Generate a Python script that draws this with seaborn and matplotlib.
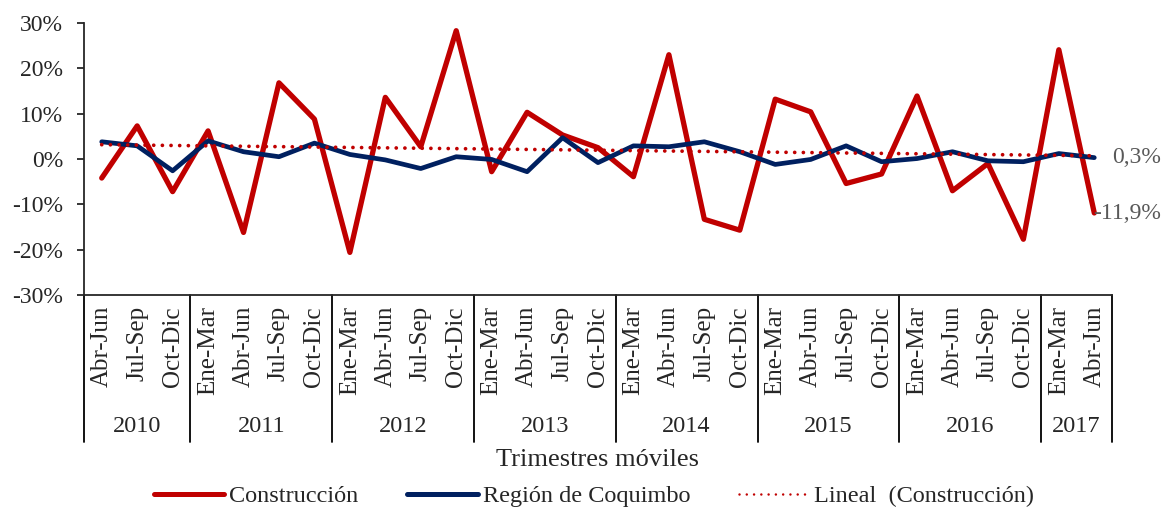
import numpy as np
import pandas as pd
import seaborn as sns
import matplotlib
matplotlib.use("Agg")
import matplotlib.pyplot as plt
import matplotlib.transforms as mtransforms
from matplotlib.lines import Line2D

# trimestres moviles, 2010 Abr-Jun .. 2017 Abr-Jun
anios = ["2010", "2011", "2012", "2013", "2014", "2015", "2016", "2017"]
trimestres_por_anio = [
    ["Abr-Jun", "Jul-Sep", "Oct-Dic"],
    ["Ene-Mar", "Abr-Jun", "Jul-Sep", "Oct-Dic"],
    ["Ene-Mar", "Abr-Jun", "Jul-Sep", "Oct-Dic"],
    ["Ene-Mar", "Abr-Jun", "Jul-Sep", "Oct-Dic"],
    ["Ene-Mar", "Abr-Jun", "Jul-Sep", "Oct-Dic"],
    ["Ene-Mar", "Abr-Jun", "Jul-Sep", "Oct-Dic"],
    ["Ene-Mar", "Abr-Jun", "Jul-Sep", "Oct-Dic"],
    ["Ene-Mar", "Abr-Jun"],
]

# variacion anual (%)
construccion = [-4.2, 7.3, -7.2, 6.2, -16.2, 16.8, 8.8, -20.6, 13.6, 2.7,
                28.3, -2.8, 10.3, 5.3, 2.5, -3.9, 23.0, -13.3, -15.7, 13.2,
                10.4, -5.4, -3.3, 13.9, -7.0, -1.0, -17.7, 24.1, -11.9]
coquimbo = [3.8, 2.9, -2.6, 4.0, 1.6, 0.5, 3.5, 1.0, -0.2, -2.1,
            0.5, -0.1, -2.8, 4.7, -0.8, 2.9, 2.7, 3.8, 1.6, -1.2,
            -0.1, 2.9, -0.6, 0.1, 1.6, -0.4, -0.6, 1.2, 0.3]

etiquetas = [t for grupo in trimestres_por_anio for t in grupo]
n = len(etiquetas)
pos = np.arange(n)

df = pd.DataFrame({"pos": pos, "Construcción": construccion,
                   "Región de Coquimbo": coquimbo})
coef = np.polyfit(pos, construccion, 1)
df["tendencia"] = np.polyval(coef, pos)

sns.set_style("ticks")
plt.rcParams["font.family"] = ["Liberation Serif", "DejaVu Serif"]

rojo = "#C00000"
azul = "#002060"

fig = plt.figure(figsize=(11.66, 5.08), dpi=100)
ax = fig.add_axes([84 / 1166, 1 - 295 / 508, (1112 - 84) / 1166, 272 / 508])

sns.lineplot(data=df, x="pos", y="tendencia", color=rojo, lw=2.7, ax=ax,
             linestyle=(0, (0.01, 2.3)))
sns.lineplot(data=df, x="pos", y="Construcción", color=rojo, lw=3.8, ax=ax)
sns.lineplot(data=df, x="pos", y="Región de Coquimbo", color=azul, lw=3.4, ax=ax)
for l in ax.lines:
    l.set_solid_capstyle("round")
    l.set_dash_capstyle("round")
ax.lines[0].set_zorder(3)

ax.set_xlim(-0.5, n - 0.5)
ax.set_ylim(-30, 30)
ax.set_yticks(range(-30, 31, 10))
ax.set_yticklabels([f"{v}%" for v in range(-30, 31, 10)], fontsize=17)
ax.tick_params(axis="y", length=5, width=1.3, pad=10)
ax.set_xticks(pos)
ax.set_xticklabels(etiquetas, rotation=90, fontsize=18)
ax.tick_params(axis="x", length=0, pad=8)
ax.set_xlabel("")
ax.set_ylabel("")
sns.despine(ax=ax)
for s in ["left", "bottom"]:
    ax.spines[s].set_linewidth(1.3)

# separadores de anios y etiquetas de anio
trans = mtransforms.blended_transform_factory(ax.transData, ax.transAxes)
bordes = np.concatenate([[0], np.cumsum([len(g) for g in trimestres_por_anio])]) - 0.5
for b in bordes:
    ax.plot([b, b], [0, -0.539], transform=trans, color="black", lw=1.3,
            clip_on=False)
for i, a in enumerate(anios):
    ax.text((bordes[i] + bordes[i + 1]) / 2, -0.485, a, transform=trans,
            ha="center", va="center", fontsize=17.5)

ax.text(0.5, -0.607, "Trimestres móviles", transform=ax.transAxes,
        ha="center", va="center", fontsize=19)

# etiquetas del ultimo dato
ax.annotate("0,3%", (pos[-1], coquimbo[-1]), xytext=(18, 0),
            textcoords="offset pixels", ha="left", va="center",
            fontsize=17, color="#595959", annotation_clip=False)
ax.annotate("-11,9%", (pos[-1], construccion[-1]), xytext=(-1, -1),
            textcoords="offset pixels", ha="left", va="center",
            fontsize=17, color="#595959", annotation_clip=False)

handles = [Line2D([], [], color=rojo, lw=3.6, solid_capstyle="round"),
           Line2D([], [], color=azul, lw=3.6, solid_capstyle="round"),
           Line2D([], [], color=rojo, lw=1.8, linestyle=(0, (0.01, 2.9)),
                  dash_capstyle="round")]
fig.legend(handles, ["Construcción", "Región de Coquimbo", "Lineal  (Construcción)"],
           loc="center", bbox_to_anchor=(594 / 1166, 1 - 496 / 508), ncol=3,
           frameon=False, fontsize=17.5, handlelength=2.9, columnspacing=2.0,
           handletextpad=0.2)

fig.savefig("out.png", dpi=100)
